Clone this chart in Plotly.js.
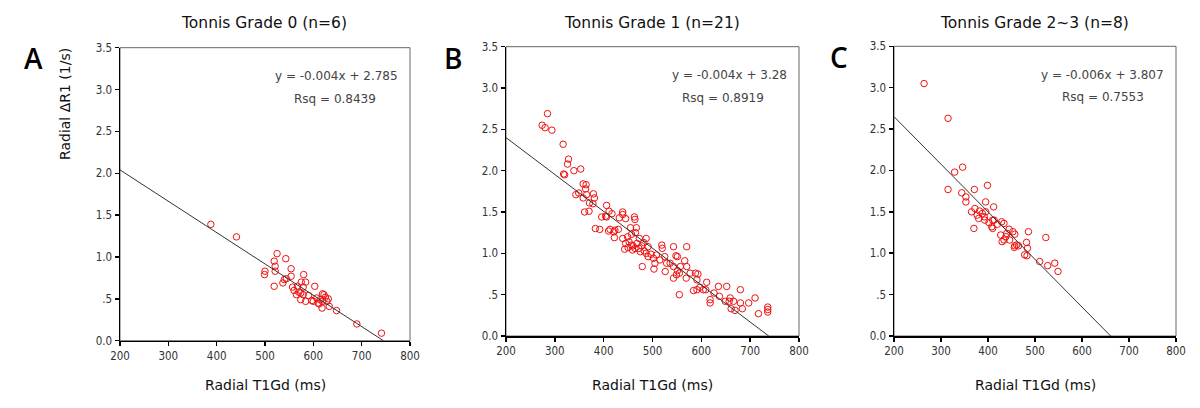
<!DOCTYPE html>
<html>
<head>
<meta charset="utf-8">
<script src="https://cdn.plot.ly/plotly-3.0.1.min.js"></script>
<style>html,body{margin:0;padding:0;background:#fff;}#chart{width:1200px;height:408px;}</style>
</head>
<body>
<div id="chart"></div>
<script>
// ---- Data ----
const titles = ["Tonnis Grade 0 (n=6)", "Tonnis Grade 1 (n=21)", "Tonnis Grade 2~3 (n=8)"];
const panelLetters = ["A", "B", "C"];
const equations = ["y = -0.004x + 2.785", "y = -0.004x + 3.28", "y = -0.006x + 3.807"];
const rsq = ["Rsq = 0.8439", "Rsq = 0.8919", "Rsq = 0.7553"];
const xTitle = "Radial T1Gd (ms)";
const yTitle = "Radial \u0394R1 (1/s)";
const yTickVals = [0, 0.5, 1, 1.5, 2, 2.5, 3, 3.5];
const yTickText = ["0.0", ".5", "1.0", "1.5", "2.0", "2.5", "3.0", "3.5"];
const xTickVals = [200, 300, 400, 500, 600, 700, 800];

const xA = [388,441,525,519,543,521,500,499,521,519,554,554,544,537,557,567,580,575,584,579,570,574,579,574,584,603,597,607,610,614,619,622,619,612,618,631,628,633,648,690,741,540,560,590,600,625,565];
const yA = [1.39,1.24,1.04,0.95,0.98,0.89,0.83,0.79,0.83,0.65,0.86,0.77,0.74,0.69,0.64,0.65,0.79,0.70,0.70,0.64,0.58,0.57,0.55,0.49,0.47,0.65,0.48,0.51,0.45,0.49,0.56,0.55,0.47,0.44,0.39,0.50,0.47,0.41,0.36,0.20,0.09,0.73,0.60,0.54,0.47,0.52,0.55];
const lineAx = [200, 745];
const lineAy = [2.04, 0];

const xB = [285,274,280,294,317,328,326,318,320,339,353,358,364,363,343,349,365,379,381,378,371,361,370,358,406,411,417,396,404,439,445,432,463,383,392,410,423,430,422,439,455,467,449,457,465,473,487,443,450,457,459,464,472,478,483,491,487,491,479,502,505,503,519,520,525,529,526,536,543,543,548,551,543,551,555,549,557,570,566,570,569,555,577,584,591,588,593,591,597,604,611,609,618,618,626,635,637,652,649,659,657,666,661,669,680,680,684,697,710,717,736,736,736,445,452,460,468,475,482,497,508,515,406,439,464,421,413];
const yB = [2.69,2.55,2.52,2.49,2.32,2.14,2.08,1.96,1.95,2.00,2.02,1.84,1.83,1.78,1.71,1.73,1.71,1.72,1.67,1.60,1.61,1.50,1.51,1.67,1.58,1.51,1.48,1.44,1.45,1.50,1.42,1.43,1.44,1.30,1.29,1.27,1.28,1.29,1.19,1.18,1.31,1.31,1.20,1.23,1.25,1.18,1.18,1.05,1.07,1.10,1.04,1.06,1.06,1.09,1.03,1.08,1.00,0.96,0.84,0.94,0.88,0.81,1.10,1.06,0.96,0.88,0.78,0.88,0.84,1.08,0.97,0.96,0.70,0.79,0.76,0.74,0.84,1.08,0.91,0.84,0.70,0.50,0.76,0.55,0.56,0.76,0.75,0.68,0.59,0.56,0.65,0.56,0.44,0.40,0.52,0.60,0.48,0.60,0.42,0.46,0.42,0.42,0.33,0.31,0.56,0.40,0.33,0.40,0.46,0.27,0.35,0.32,0.29,1.12,1.14,1.09,1.12,1.02,1.13,0.99,0.98,0.92,1.44,1.47,1.41,1.26,1.29];
const lineBx = [200, 738];
const lineBy = [2.40, 0];

const xC = [264,315,346,329,315,371,399,344,353,353,395,412,365,372,377,380,382,388,392,395,393,402,410,413,408,410,370,429,434,427,430,434,440,445,453,457,446,457,461,465,456,486,482,484,478,483,510,523,527,542,549,438,420];
const yC = [3.05,2.63,2.04,1.98,1.77,1.77,1.82,1.73,1.68,1.62,1.62,1.56,1.50,1.54,1.46,1.42,1.51,1.48,1.44,1.50,1.40,1.37,1.40,1.40,1.32,1.30,1.30,1.38,1.36,1.22,1.14,1.16,1.24,1.29,1.26,1.23,1.16,1.09,1.10,1.09,1.07,1.26,1.13,1.06,0.98,0.97,0.90,1.19,0.85,0.88,0.78,1.20,1.35];
const lineCx = [200, 661];
const lineCy = [2.65, 0];

// ---- Layout geometry (pixels -> paper) ----
const W = 1200, H = 408;
const px = v => v / W;
const py = v => 1 - v / H;
const plotBoxes = [
  {x0:120, x1:410, y0:47.7, y1:340.7},
  {x0:506, x1:799, y0:46.7, y1:336},
  {x0:894, x1:1176, y0:46.3, y1:336}
];

const fontFam = "DejaVu Sans, Verdana, sans-serif";
const tickFam = "DejaVu Sans Condensed, DejaVu Sans, sans-serif";
const pointsX = [xA, xB, xC], pointsY = [yA, yB, yC];
const linesX = [lineAx, lineBx, lineCx], linesY = [lineAy, lineBy, lineCy];

const traces = [];
const layout = {
  width: W, height: H,
  margin: {l:0, r:0, t:0, b:0},
  paper_bgcolor: "#fff", plot_bgcolor: "#fff",
  showlegend: false,
  font: {family: fontFam, color: "#222"},
  annotations: [], shapes: []
};

for (let i = 0; i < 3; i++) {
  const sfx = i === 0 ? "" : String(i + 1);
  const b = plotBoxes[i];
  traces.push({
    x: pointsX[i], y: pointsY[i], type: "scatter", mode: "markers",
    xaxis: "x" + sfx, yaxis: "y" + sfx,
    marker: {symbol: "circle-open", size: 6.5, color: "#ee1111", line: {width: 1, color: "#ee1111"}},
    hoverinfo: "skip"
  });
  traces.push({
    x: linesX[i], y: linesY[i], type: "scatter", mode: "lines",
    xaxis: "x" + sfx, yaxis: "y" + sfx,
    line: {color: "#333", width: 1}, hoverinfo: "skip"
  });
  const axCommon = {
    showgrid: false, zeroline: false, showline: true, linecolor: "#000", linewidth: 1.5,
    ticks: "outside", ticklen: 4, tickcolor: "#000", tickwidth: 1.5,
    tickfont: {family: tickFam, size: 11.5, color: "#333"}, fixedrange: true
  };
  layout["xaxis" + sfx] = Object.assign({}, axCommon, {
    domain: [px(b.x0), px(b.x1)], range: [200, 800], anchor: "y" + sfx,
    tickvals: xTickVals, ticktext: xTickVals.map(String)
  });
  layout["yaxis" + sfx] = Object.assign({}, axCommon, {
    domain: [py(b.y1), py(b.y0)], range: [0, 3.5], anchor: "x" + sfx,
    tickvals: yTickVals, ticktext: yTickText
  });
  layout.shapes.push({
    type: "rect", xref: "paper", yref: "paper",
    x0: px(b.x0), x1: px(b.x1), y0: py(b.y1), y1: py(b.y0),
    line: {color: "#666", width: 1}, layer: "below"
  });
  const cx = (b.x0 + b.x1) / 2;
  // title
  layout.annotations.push({
    text: titles[i], xref: "paper", yref: "paper", x: px(cx - 1), y: py(23),
    xanchor: "center", yanchor: "middle", showarrow: false,
    font: {family: fontFam, size: 15.5, color: "#111"}
  });
  // x title
  layout.annotations.push({
    text: xTitle, xref: "paper", yref: "paper", x: px(cx), y: py(385),
    xanchor: "center", yanchor: "middle", showarrow: false,
    font: {family: fontFam, size: 14, color: "#111"}
  });
  // equation
  layout.annotations.push({
    text: equations[i], xref: "paper", yref: "paper", x: px(b.x1 - 10), y: py(b.y0 + 28.5),
    xanchor: "right", yanchor: "middle", showarrow: false,
    font: {family: fontFam, size: 12, color: "#444"}
  });
  layout.annotations.push({
    text: rsq[i], xref: "paper", yref: "paper", x: px(b.x0 + 0.74 * (b.x1 - b.x0)), y: py(b.y0 + 51),
    xanchor: "center", yanchor: "middle", showarrow: false,
    font: {family: fontFam, size: 12, color: "#444"}
  });
}
const letterPos = [[33, 58], [453, 58], [839, 57]];
for (let i = 0; i < 3; i++) {
  layout.annotations.push({
    text: panelLetters[i], xref: "paper", yref: "paper",
    x: px(letterPos[i][0]), y: py(letterPos[i][1]),
    xanchor: "center", yanchor: "middle", showarrow: false,
    font: {family: "Open Sans, DejaVu Sans, sans-serif", size: 28, color: "#000", weight: 600}
  });
}
layout.annotations.push({
  text: yTitle, xref: "paper", yref: "paper", x: px(65), y: py(104),
  xanchor: "center", yanchor: "middle", textangle: -90, showarrow: false,
  font: {family: fontFam, size: 14, color: "#111"}
});

Plotly.newPlot("chart", traces, layout, {displayModeBar: false, staticPlot: true});
</script>
</body>
</html>
